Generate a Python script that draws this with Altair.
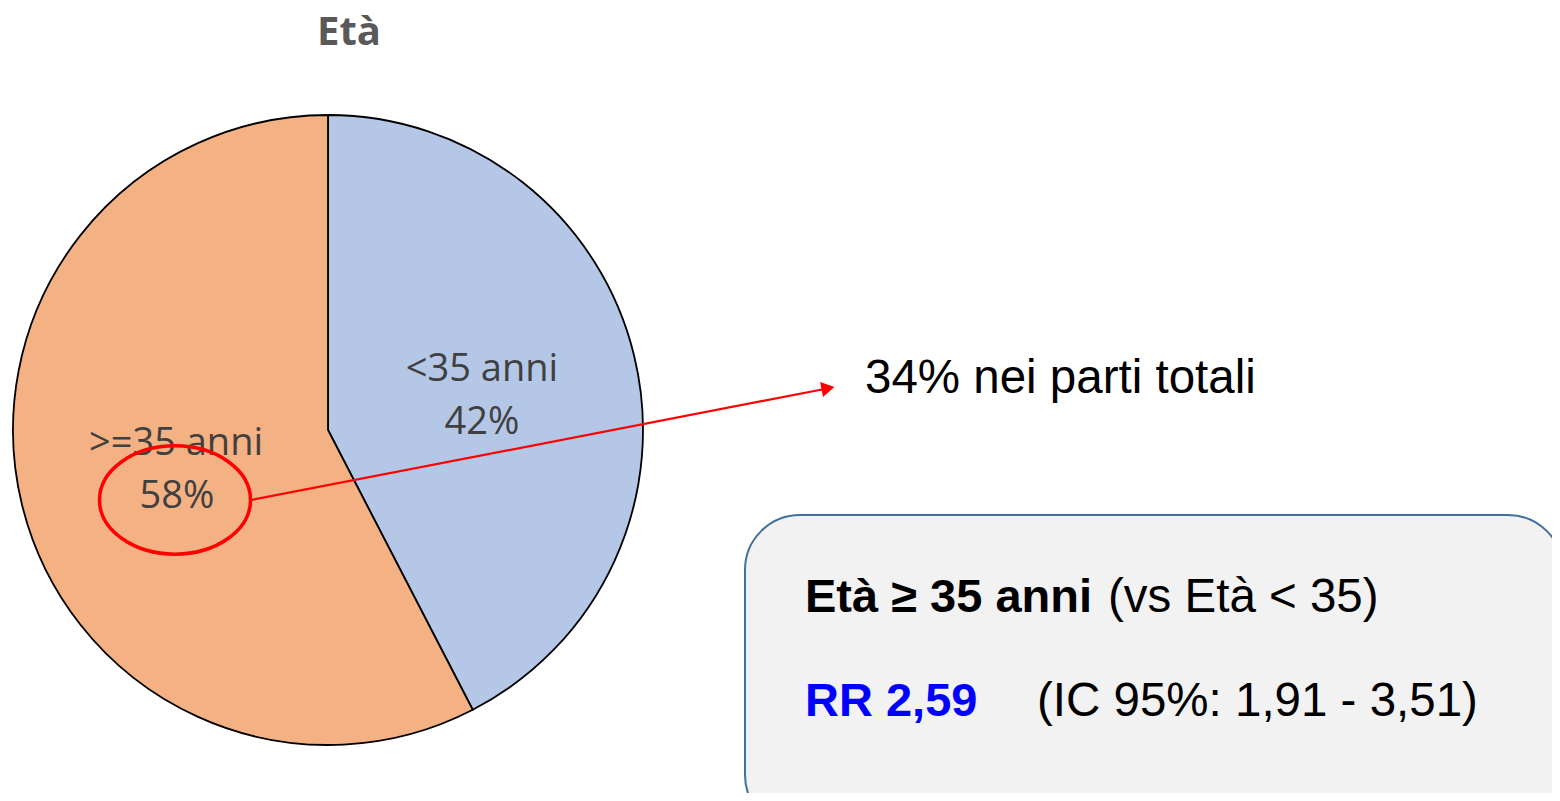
import altair as alt
import pandas as pd

# ---- data ----
categories = ["<35 anni", ">=35 anni"]
shares = [42.4, 57.6]
slice_colors = ["#B4C7E7", "#F4B183"]
pct_labels = ["42%", "58%"]

title_text = "Età"
note_text = "34% nei parti totali"
box_line1_bold = "Età ≥ 35 anni"
box_line1_rest = "(vs Età < 35)"
box_line2_bold = "RR 2,59"
box_line2_rest = "(IC 95%: 1,91 - 3,51)"

OX, OY = 8, 8  # page margin offset

pie_df = pd.DataFrame({"cat": categories, "share": shares, "idx": [0, 1]})

pie = alt.Chart(pie_df).mark_arc(stroke="black", strokeWidth=1.8, radius=315).encode(
    theta=alt.Theta("share:Q", stack=True),
    order=alt.Order("idx:Q"),
    color=alt.Color("cat:N", scale=alt.Scale(domain=categories, range=slice_colors), legend=None),
    x=alt.value(328 - OX),
    y=alt.value(430 - OY),
)

def txt(s, x, y, size, color="black", weight="normal", font="Liberation Sans", align="left"):
    return alt.Chart(pd.DataFrame({"t": [s]})).mark_text(
        align=align, baseline="alphabetic", fontSize=size, font=font,
        fontWeight=weight, color=color
    ).encode(text="t:N", x=alt.value(x - OX), y=alt.value(y - OY))

layers = [pie]
layers.append(txt(title_text, 349, 45, 40, "#595959", "bold", "Open Sans", "center"))
layers.append(txt(categories[0], 482, 381, 38, "#404040", "normal", "Open Sans", "center"))
layers.append(txt(pct_labels[0], 482, 434, 38, "#404040", "normal", "Open Sans", "center"))
layers.append(txt(categories[1], 176, 455, 38, "#404040", "normal", "Open Sans", "center"))
layers.append(txt(pct_labels[1], 177, 508, 38, "#404040", "normal", "Open Sans", "center"))

# ellipse around 58%
ellipse_shape = "M -1 0 A 1 0.717 0 1 0 1 0 A 1 0.717 0 1 0 -1 0 Z"
ell = alt.Chart(pd.DataFrame({"k": [0]})).mark_point(
    shape=ellipse_shape, filled=False, stroke="#FF0000", strokeWidth=3.5, size=151 * 151, opacity=1
).encode(x=alt.value(175 - OX), y=alt.value(500 - OY))
layers.append(ell)

# arrow
arrow_line = alt.Chart(pd.DataFrame({"k": [0]})).mark_rule(color="#FF0000", strokeWidth=2.2).encode(
    x=alt.value(251 - OX), y=alt.value(500 - OY), x2=alt.value(822 - OX), y2=alt.value(389.5 - OY)
)
arrow_head = alt.Chart(pd.DataFrame({"k": [0]})).mark_point(
    shape="triangle-right", filled=True, color="#FF0000", size=230, angle=349, opacity=1
).encode(x=alt.value(828 - OX), y=alt.value(388.3 - OY))
layers += [arrow_line, arrow_head]

layers.append(txt(note_text, 865, 393, 47.5))

# info box
box = alt.Chart(pd.DataFrame({"k": [0]})).mark_rect(
    fill="#F2F2F2", stroke="#41719C", strokeWidth=2, cornerRadius=55
).encode(x=alt.value(745 - OX), x2=alt.value(1563 - OX), y=alt.value(515 - OY), y2=alt.value(830 - OY))
layers.append(box)

layers.append(txt(box_line1_bold, 805, 612, 47, "black", "bold"))
layers.append(txt(box_line1_rest, 1108, 612, 47.5))
layers.append(txt(box_line2_bold, 805, 716, 47, "#0000FF", "bold"))
layers.append(txt(box_line2_rest, 1037, 716, 47.5))

chart = alt.layer(*layers).properties(
    width=1544, height=785, padding=0,
    autosize=alt.AutoSizeParams(type="none"),
    background="white",
).configure_view(stroke=None)

chart.save("out.html", embed_options={"renderer": "svg", "actions": False})
